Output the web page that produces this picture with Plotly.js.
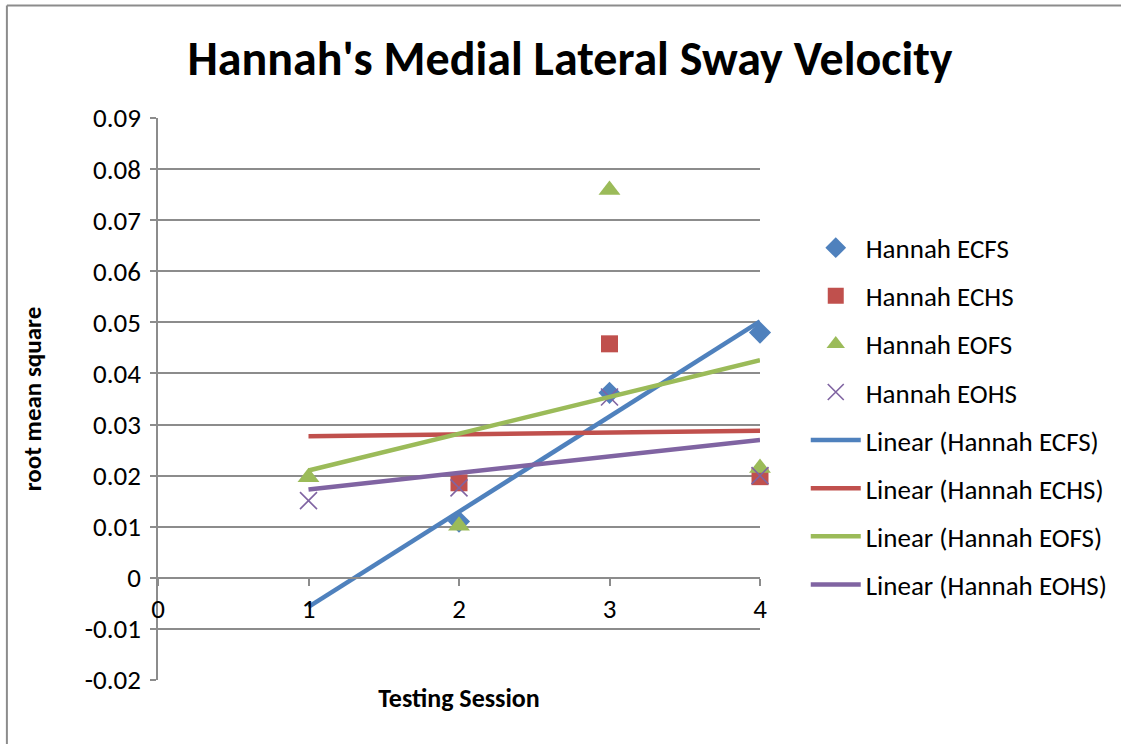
<!DOCTYPE html>
<html>
<head>
<meta charset="utf-8">
<script src="https://cdn.plot.ly/plotly-3.0.1.min.js"></script>
<style>
  html, body { margin: 0; padding: 0; background: #ffffff; }
  #chart { width: 1121px; height: 744px; }
</style>
</head>
<body>
<div id="chart"></div>
<script>
// Testing sessions
const sessions = [1, 2, 3, 4];

const ecfs = [null, 0.011, 0.0362, 0.048];
const echs = [null, 0.0186, 0.0458, 0.0198];
const eofs = [0.0197, 0.0102, 0.0759, 0.0215];
const eohs = [0.0151, 0.0176, 0.0354, 0.0200];

// Linear trendline endpoints (at session 1 and session 4)
const trendX = [1, 4];
const trendEcfs = [-0.0057, 0.0502];
const trendEchs = [0.0277, 0.0288];
const trendEofs = [0.0210, 0.0426];
const trendEohs = [0.0173, 0.0270];

// Names and tick labels
const seriesNames = ["Hannah ECFS", "Hannah ECHS", "Hannah EOFS", "Hannah EOHS"];
const yTicks = [-0.02, -0.01, 0, 0.01, 0.02, 0.03, 0.04, 0.05, 0.06, 0.07, 0.08, 0.09];
const yTickLabels = ["-0.02", "-0.01", "0", "0.01", "0.02", "0.03", "0.04", "0.05", "0.06", "0.07", "0.08", "0.09"];
const xTicks = [0, 1, 2, 3, 4];
const xTickLabels = ["0", "1", "2", "3", "4"];

const colors = ["#4F81BD", "#C0504D", "#9BBB59", "#8064A2"];
const FONT = "Carlito, Lato, 'Open Sans', sans-serif";

const pointSeries = [ecfs, echs, eofs, eohs];
const trendSeries = [trendEcfs, trendEchs, trendEofs, trendEohs];
const markerDefs = [
  {symbol: "diamond", size: 17},
  {symbol: "square", size: 17},
  {symbol: "triangle-up", size: 19},
  {symbol: "x-thin", size: 17, line: {width: 1.6, color: colors[3]}}
];

const traces = [];
pointSeries.forEach((ys, i) => {
  const m = Object.assign({color: colors[i]}, markerDefs[i]);
  traces.push({
    type: "scatter", mode: "markers", x: sessions, y: ys,
    name: seriesNames[i], legendgroup: "g" + i, marker: m,
    cliponaxis: false,
    hoverinfo: "x+y+name"
  });
});
trendSeries.forEach((ys, i) => {
  traces.push({
    type: "scatter", mode: "lines", x: trendX, y: ys,
    name: "Linear (" + seriesNames[i] + ")", legendgroup: "t" + i,
    cliponaxis: false,
    line: {color: colors[i], width: 4.5}
  });
});

const layout = {
  width: 1121, height: 744,
  margin: {l: 158, r: 361, t: 118, b: 64, autoexpand: false},
  paper_bgcolor: "#ffffff", plot_bgcolor: "#ffffff",
  font: {family: FONT, size: 27, color: "#000000"},
  title: {
    text: "<b>Hannah's Medial Lateral Sway Velocity</b>",
    font: {family: FONT, size: 48, color: "#000000"},
    x: 0.5085, xref: "container", xanchor: "center",
    y: 0.922, yref: "container", yanchor: "middle"
  },
  xaxis: {
    range: [0, 4], tickvals: xTicks, ticktext: xTickLabels,
    showgrid: false, zeroline: false,
    showline: true, linecolor: "#8c8c8c", linewidth: 1.5,
    ticks: "outside", ticklen: 7, tickcolor: "#8c8c8c", tickwidth: 1.5,
    anchor: "free", position: 0.1818,
    tickfont: {family: FONT, size: 27, color: "#000000"},
    title: {text: "<b>Testing Session</b>", font: {family: FONT, size: 26, color: "#000000"}, standoff: 64},
    automargin: false,
    fixedrange: true
  },
  yaxis: {
    range: [-0.02, 0.09], tickvals: yTicks, ticktext: yTickLabels,
    showgrid: true, gridcolor: "#8c8c8c", gridwidth: 1.5,
    zeroline: false,
    showline: true, linecolor: "#8c8c8c", linewidth: 1.5,
    ticks: "outside", ticklen: 6, tickcolor: "#8c8c8c", tickwidth: 1.5,
    ticklabelstandoff: 4,
    tickfont: {family: FONT, size: 27, color: "#000000"},
    title: {text: "<b>root mean square</b>", font: {family: FONT, size: 25, color: "#000000"}, standoff: 36},
    automargin: false,
    fixedrange: true
  },
  showlegend: true,
  legend: {
    x: 1.076, xanchor: "left", y: 0.812, yanchor: "top",
    font: {family: FONT, size: 27, color: "#000000"},
    traceorder: "grouped", tracegroupgap: 10,
    itemwidth: 50, bgcolor: "rgba(0,0,0,0)"
  },
  shapes: [
    {type: "line", xref: "paper", yref: "paper", x0: -0.251, x1: -0.251, y0: 1.2, y1: -0.2,
     line: {color: "#8c8c8c", width: 2}},
    {type: "line", xref: "paper", yref: "paper", x0: -0.251, x1: 1.7, y0: 1.2, y1: 1.2,
     line: {color: "#8c8c8c", width: 2}}
  ]
};

Plotly.newPlot("chart", traces, layout, {displayModeBar: false, staticPlot: false});
</script>
</body>
</html>
